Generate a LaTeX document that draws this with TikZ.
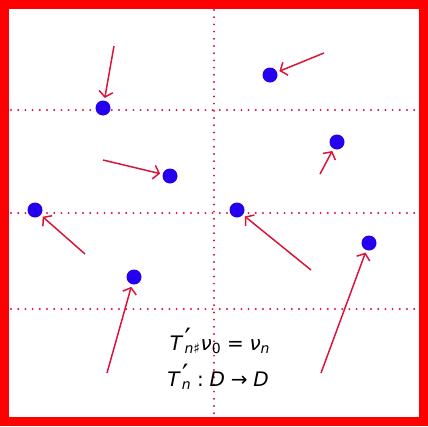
\documentclass[tikz,border=0pt]{standalone}
\usepackage{amsmath}
\usepackage{fontspec}
\setmainfont{DejaVu Sans}
\usetikzlibrary{positioning, arrows.meta}

\definecolor{arrowred}{RGB}{220,20,60}
\definecolor{dotblue}{RGB}{36,0,238}
\definecolor{framered}{RGB}{255,0,0}

\newcommand{\iv}[1]{\text{\itshape #1}}
\newcommand{\tp}{\text{\itshape T\kern2.5pt\upshape\raisebox{2pt}{\scalebox{1.4}{′}}}}

\begin{document}
\begin{tikzpicture}[x=1pt, y=-1pt,
    pt/.style={circle, fill=dotblue, minimum size=15pt, inner sep=0pt},
    push/.style={draw=arrowred, line width=1.5pt, shorten >=2.5pt,
        -{Straight Barb[length=5.5pt, width=14pt, line width=1.5pt]}},
    gridline/.style={draw=arrowred, line width=2.2pt, line cap=round,
        dash pattern=on 0pt off 7.2pt},
    formula/.style={anchor=base, inner sep=0pt, font=\fontsize{20}{24}\selectfont}]
\useasboundingbox (0,0) rectangle (428,426);
\draw[framered, line width=9pt] (4.5,4.5) rectangle (423.5,421.5);

\draw[gridline] (214,10) -- (214,418);
\foreach \y in {110,213,309}
    \draw[gridline] (11,\y) -- (420,\y);

\node[pt] (p1) at (103,108) {};
\node[pt] (p2) at (270,75) {};
\node[pt] (p3) at (337,142) {};
\node[pt] (p4) at (170,176) {};
\node[pt] (p5) at (35,210) {};
\node[pt] (p6) at (237,210) {};
\node[pt] (p7) at (369,243) {};
\node[pt] (p8) at (134,277) {};

\coordinate (s1) at (114,46);
\coordinate (s2) at (324,53);
\coordinate (s3) at (320,174);
\coordinate (s4) at (103,160);
\coordinate (s5) at (85,254);
\coordinate (s6) at (311,270);
\coordinate (s7) at (321,373);
\coordinate (s8) at (107,373);

\draw[push] (s1) -- (p1);
\draw[push] (s2) -- (p2);
\draw[push] (s3) -- (p3);
\draw[push] (s4) -- (p4);
\draw[push] (s5) -- (p5);
\draw[push] (s6) -- (p6);
\draw[push] (s7) -- (p7);
\draw[push] (s8) -- (p8);

\node[formula] (pushfwd) at (220,350)
    {${\tp}_{\mkern-8mu\iv{n}\text{♯}}\iv{ν}_{\text{0}} \mathrel{\text{=}} \iv{ν}_{\iv{n}}$};
\node[formula] (mapping) at (218,386)
    {${\tp}_{\mkern-8mu\iv{n}} \mathrel{\text{:}} \iv{D} \mathrel{\text{→}} \iv{D}$};
\end{tikzpicture}
\end{document}
